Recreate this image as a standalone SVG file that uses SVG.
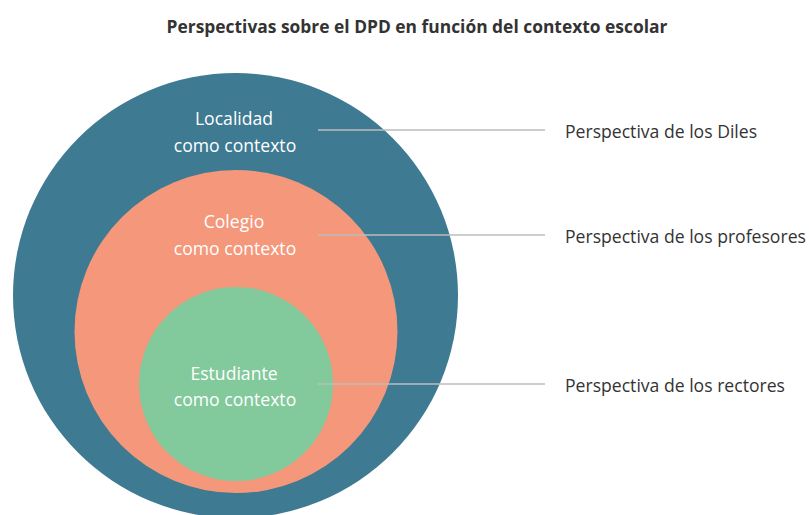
<svg xmlns="http://www.w3.org/2000/svg" width="809" height="515" viewBox="0 0 809 515">
<style>
.t{font-family:"Open Sans","Liberation Sans",sans-serif;}
.title{font-size:17.4px;font-weight:bold;fill:#333;}
.in{font-size:17.6px;fill:#ffffff;text-anchor:middle;}
.lab{font-size:17.6px;fill:#333;}
.ln{stroke:#bdbdbd;stroke-width:1.5;fill:none;}
</style>
<rect width="809" height="515" fill="#ffffff"/>
<text class="t title" x="417" y="33" text-anchor="middle">Perspectivas sobre el DPD en función del contexto escolar</text>
<g id="localidad">
<circle cx="235.5" cy="295.5" r="222.5" fill="#3e7a92"/>
<text class="t in" x="234" y="125">Localidad</text>
<text class="t in" x="235" y="152">como contexto</text>
</g>
<g id="colegio">
<circle cx="236" cy="331.5" r="161.5" fill="#f4977a"/>
<text class="t in" x="234" y="228">Colegio</text>
<text class="t in" x="235" y="255">como contexto</text>
</g>
<g id="estudiante">
<circle cx="236" cy="384" r="97" fill="#82c99c"/>
<text class="t in" x="234" y="380">Estudiante</text>
<text class="t in" x="235" y="406">como contexto</text>
</g>
<g id="connectors">
<line class="ln" x1="318" y1="130" x2="545" y2="130"/>
<line class="ln" x1="318" y1="235" x2="545" y2="235"/>
<line class="ln" x1="318" y1="384" x2="545" y2="384"/>
</g>
<g id="labels">
<text class="t lab" x="565" y="138">Perspectiva de los Diles</text>
<text class="t lab" x="565" y="243">Perspectiva de los profesores</text>
<text class="t lab" x="565" y="392">Perspectiva de los rectores</text>
</g>
</svg>
